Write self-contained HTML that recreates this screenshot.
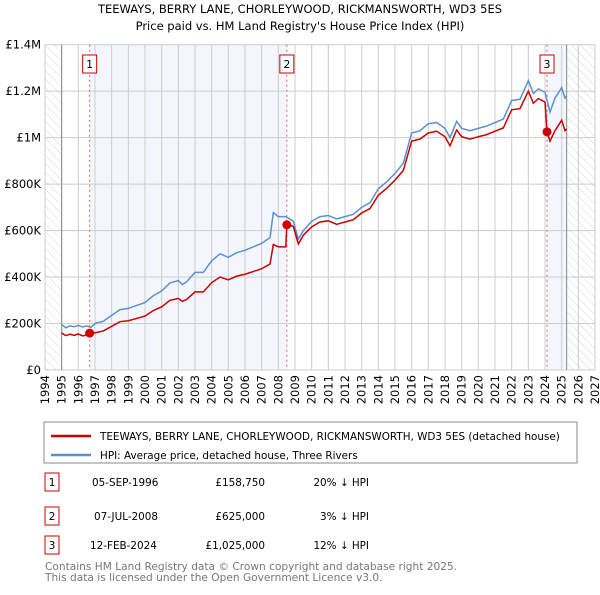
<!DOCTYPE html>
<html><head><meta charset="utf-8"><style>
body{margin:0;width:600px;height:590px;background:#fff;font-family:"Liberation Sans","DejaVu Sans",sans-serif;overflow:hidden}
svg text{font-family:"DejaVu Sans","Liberation Sans",sans-serif}
</style></head><body>
<svg id="c" width="600" height="590" xmlns="http://www.w3.org/2000/svg">
<defs><pattern id="hatch" patternUnits="userSpaceOnUse" width="6" height="6" patternTransform="rotate(-45)"><line x1="0" y1="0" x2="0" y2="6" stroke="#d8d8d8" stroke-width="1"/></pattern></defs>
<text x="300" y="13" text-anchor="middle" font-size="11.5">TEEWAYS, BERRY LANE, CHORLEYWOOD, RICKMANSWORTH, WD3 5ES</text>
<text x="300" y="30" text-anchor="middle" font-size="11.5">Price paid vs. HM Land Registry's House Price Index (HPI)</text>
<g id="plot"></g>
<rect x="44" y="422" width="533" height="41" fill="#fff" stroke="#888"/>
<line x1="51" y1="436" x2="91" y2="436" stroke="#cc0000" stroke-width="2.5"/>
<text x="100" y="440" font-size="10.4">TEEWAYS, BERRY LANE, CHORLEYWOOD, RICKMANSWORTH, WD3 5ES (detached house)</text>
<line x1="51" y1="455" x2="91" y2="455" stroke="#5b8fd4" stroke-width="2.5"/>
<text x="100" y="459" font-size="10.4">HPI: Average price, detached house, Three Rivers</text>
<g font-size="10.4">
<rect x="45" y="473" width="14" height="18" fill="#fff" stroke="#cc0000"/><text x="52" y="486" text-anchor="middle">1</text>
<text x="92" y="486">05-SEP-1996</text><text x="265" y="486" text-anchor="end">£158,750</text><text x="369" y="486" text-anchor="end">20% ↓ HPI</text>
<rect x="45" y="507" width="14" height="18" fill="#fff" stroke="#cc0000"/><text x="52" y="520" text-anchor="middle">2</text>
<text x="94" y="520">07-JUL-2008</text><text x="265" y="520" text-anchor="end">£625,000</text><text x="369" y="520" text-anchor="end">3% ↓ HPI</text>
<rect x="45" y="536" width="14" height="18" fill="#fff" stroke="#cc0000"/><text x="52" y="549" text-anchor="middle">3</text>
<text x="90" y="549">12-FEB-2024</text><text x="265" y="549" text-anchor="end">£1,025,000</text><text x="369" y="549" text-anchor="end">12% ↓ HPI</text>
</g>
<text x="45" y="570" font-size="10.6" fill="#777">Contains HM Land Registry data © Crown copyright and database right 2025.</text>
<text x="45" y="581" font-size="10.6" fill="#777">This data is licensed under the Open Government Licence v3.0.</text>
</svg>
<script>
const yearTicks=[1994,1995,1996,1997,1998,1999,2000,2001,2002,2003,2004,2005,2006,2007,2008,2009,2010,2011,2012,2013,2014,2015,2016,2017,2018,2019,2020,2021,2022,2023,2024,2025,2026,2027];
const valueTicks=[0,200000,400000,600000,800000,1000000,1200000,1400000];
const valueLabels=["£0","£200K","£400K","£600K","£800K","£1M","£1.2M","£1.4M"];
const hpiYears=[1995,1995.25,1995.5,1995.75,1996,1996.25,1996.5,1996.75,1997,1997.5,1998,1998.5,1999,1999.5,2000,2000.5,2001,2001.5,2002,2002.25,2002.5,2003,2003.5,2004,2004.5,2005,2005.5,2006,2006.5,2007,2007.5,2007.7,2008,2008.45,2008.9,2009.2,2009.5,2010,2010.5,2011,2011.5,2012,2012.5,2013,2013.5,2014,2014.5,2015,2015.5,2016,2016.5,2017,2017.5,2018,2018.3,2018.7,2019,2019.5,2020,2020.5,2021,2021.5,2022,2022.5,2023,2023.3,2023.6,2024,2024.3,2024.6,2025,2025.2,2025.3];
const hpiValues=[195,182,190,186,192,185,190,183,200,210,235,260,265,278,290,320,340,375,385,368,380,420,420,470,500,485,505,515,530,545,570,677,660,660,640,563,600,640,660,665,650,660,670,700,720,780,810,846,890,1020,1030,1060,1065,1040,1000,1070,1040,1030,1040,1050,1065,1080,1160,1165,1245,1190,1210,1195,1110,1170,1215,1170,1180];
const priceYears=[1995,1995.25,1995.5,1995.75,1996,1996.25,1996.5,1996.68,1997,1997.5,1998,1998.5,1999,1999.5,2000,2000.5,2001,2001.5,2002,2002.25,2002.5,2003,2003.5,2004,2004.5,2005,2005.5,2006,2006.5,2007,2007.5,2007.7,2008,2008.45,2008.51,2008.9,2009.2,2009.5,2010,2010.5,2011,2011.5,2012,2012.5,2013,2013.5,2014,2014.5,2015,2015.5,2016,2016.5,2017,2017.5,2018,2018.3,2018.7,2019,2019.5,2020,2020.5,2021,2021.5,2022,2022.5,2023,2023.3,2023.6,2024,2024.12,2024.3,2024.6,2025,2025.2,2025.3];
const priceValues=[159,148,154,149,155,147,150,158.75,160,168,188,208,212,222,232,256,272,300,308,295,304,336,336,376,400,388,404,412,424,436,456,540,530,530,625,618,542,580,616,637,642,627,637,647,676,695,752,782,817,859,985,994,1020,1028,1004,965,1033,1004,994,1004,1013,1028,1042,1120,1125,1200,1148,1168,1153,1025,985,1030,1075,1030,1038];
const saleYears=[1996.68,2008.51,2024.12];
const saleValues=[158.75,625,1025];
const saleLabels=["1","2","3"];
const NS="http://www.w3.org/2000/svg";
const L=45,R=595,T=44.7,B=370;
const xs=y=>L+(y-1994)/33*(R-L);
const ys=v=>B-v/1400000*(B-T);
const g=document.getElementById('plot');
function mk(t,a){const e=document.createElementNS(NS,t);for(const k in a)e.setAttribute(k,a[k]);g.appendChild(e);return e;}
let e;
e=mk('rect',{x:xs(saleYears[0]),y:T,width:xs(saleYears[1])-xs(saleYears[0]),height:B-T,fill:'#eef3fc',opacity:0.7});


e=mk('rect',{x:xs(saleYears[2]),y:T,width:xs(2025.3)-xs(saleYears[2]),height:B-T,fill:'#eef3fc',opacity:0.7});


e=mk('rect',{x:L,y:T,width:xs(1995)-L,height:B-T,fill:'url(#hatch)'});


e=mk('rect',{x:xs(2025.3),y:T,width:R-xs(2025.3),height:B-T,fill:'url(#hatch)'});


yearTicks.forEach(y=>{
 e=mk('line',{x1:xs(y),x2:xs(y),y1:T,y2:B,stroke:'#ccc','stroke-width':1});
 
 
 e=mk('text',{x:0,y:0,'text-anchor':'end','font-size':11.5,transform:'translate('+(xs(y)+4)+','+(B+5)+') rotate(-90)'});
 e.textContent=y;
 
 
});
valueTicks.forEach((v,i)=>{
 e=mk('line',{x1:L,x2:R,y1:ys(v),y2:ys(v),stroke:'#ccc','stroke-width':1});
 
 
 e=mk('text',{x:L-4,y:ys(v)+4,'text-anchor':'end','font-size':11.5});
 e.textContent=valueLabels[i];
 
 
});
[1995,2025.3].forEach(y=>{e=mk('line',{x1:xs(y),x2:xs(y),y1:T,y2:B,stroke:'#888','stroke-width':1});
 
 });
saleYears.forEach((y,i)=>{
 e=mk('line',{x1:xs(y),x2:xs(y),y1:T,y2:B,stroke:'#e06060','stroke-width':1,'stroke-dasharray':'2,3'});
 
 
 e=mk('rect',{x:xs(y)-7,y:55,width:14,height:18,fill:'#fff',stroke:'#cc0000'});
 
 
 e=mk('text',{x:xs(y),y:68,'text-anchor':'middle','font-size':11});
 e.textContent=saleLabels[i];
 
 
});
e=mk('polyline',{points:hpiYears.map((y,i)=>xs(y)+','+ys(hpiValues[i]*1000)).join(' '),fill:'none',stroke:'#5b8fd4','stroke-width':1.5});


e=mk('polyline',{points:priceYears.map((y,i)=>xs(y)+','+ys(priceValues[i]*1000)).join(' '),fill:'none',stroke:'#cc0000','stroke-width':1.5});


saleYears.forEach((y,i)=>{
 e=mk('circle',{cx:xs(y),cy:ys(saleValues[i]*1000),r:4.5,fill:'#cc0000'});
 
 
});
</script>
</body></html>
